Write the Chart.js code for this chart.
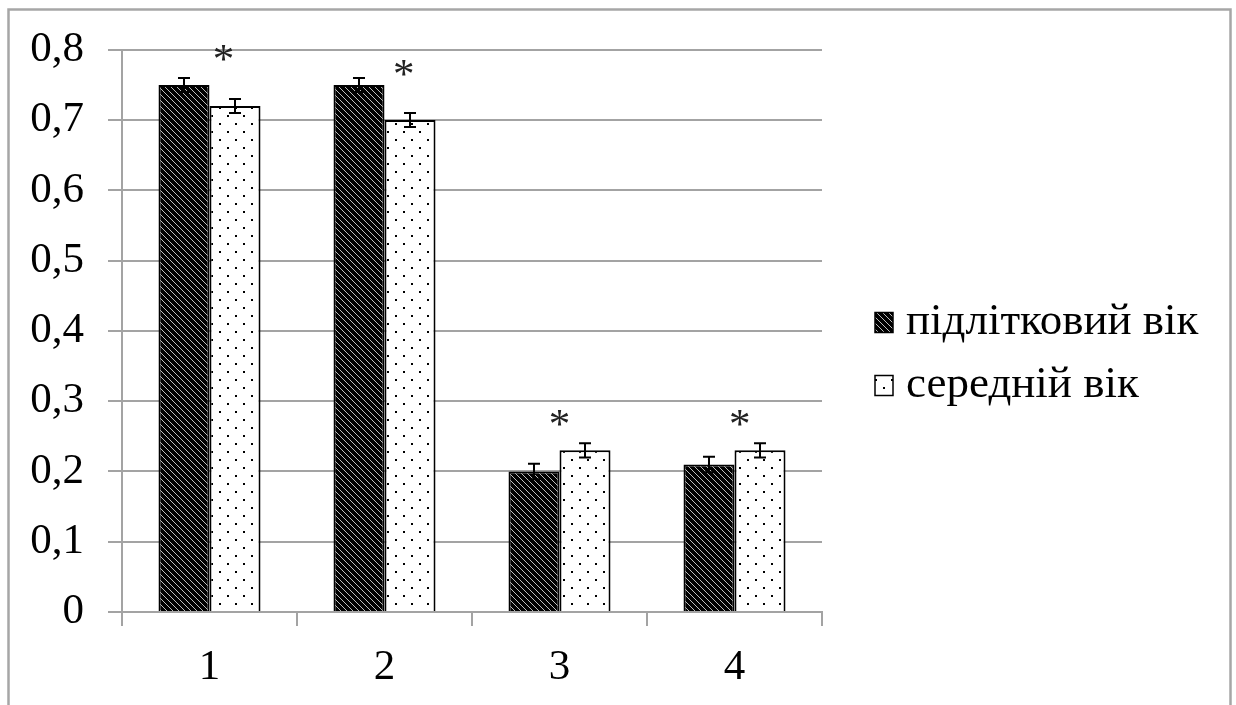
<!DOCTYPE html>
<html>
<head>
<meta charset="utf-8">
<script src="https://cdn.jsdelivr.net/npm/chart.js@4"></script>
<style>
  html, body { margin: 0; padding: 0; background: #fff; }
  .chart-box { width: 1236px; height: 705px; }
</style>
</head>
<body>
<div class="chart-box"><canvas id="chart"></canvas></div>
<script>
const categories = ['1', '2', '3', '4'];
const seriesNames = ['підлітковий вік', 'середній вік'];

const teenValues = [0.75, 0.75, 0.20, 0.21];
const teenErrors = [0.01, 0.01, 0.011, 0.011];
const middleValues = [0.72, 0.70, 0.23, 0.23];
const middleErrors = [0.01, 0.01, 0.01, 0.01];

const yTickLabels = ['0', '0,1', '0,2', '0,3', '0,4', '0,5', '0,6', '0,7', '0,8'];

// asterisks: height in axis units, shift in parts of a category
const starLevels = [0.795, 0.774, 0.276, 0.276];
const starShifts = [0.08, 0.11, 0, 0.03];

const gridColor = '#a3a3a3';
const fontFamily = '"Liberation Serif", "Times New Roman", serif';

function stripePattern() {
  const c = document.createElement('canvas');
  c.width = 6;
  c.height = 6;
  const g = c.getContext('2d');
  g.fillStyle = '#000';
  g.fillRect(0, 0, 6, 6);
  g.strokeStyle = '#bdbdbd';
  g.lineWidth = 1;
  g.beginPath();
  g.moveTo(-1, -1); g.lineTo(7, 7);
  g.moveTo(-1, 5); g.lineTo(1, 7);
  g.moveTo(5, -1); g.lineTo(7, 1);
  g.stroke();
  return g.createPattern(c, 'repeat');
}

function dotPattern() {
  const c = document.createElement('canvas');
  c.width = 16;
  c.height = 16;
  const g = c.getContext('2d');
  g.fillStyle = '#fff';
  g.fillRect(0, 0, 16, 16);
  g.fillStyle = '#000';
  g.fillRect(3, 3, 2, 2);
  g.fillRect(11, 11, 2, 2);
  return g.createPattern(c, 'repeat');
}

const frame = {
  id: 'frame',
  beforeDraw(chart) {
    const { ctx } = chart;
    ctx.save();
    ctx.strokeStyle = '#a6a6a6';
    ctx.lineWidth = 2.5;
    ctx.strokeRect(8.5, 9.5, 1222, 800);
    ctx.restore();
  },
};

const errorBars = {
  id: 'errorBars',
  afterDatasetsDraw(chart) {
    const { ctx } = chart;
    const y = chart.scales.y;
    ctx.save();
    ctx.strokeStyle = '#000';
    ctx.lineWidth = 2;
    chart.data.datasets.forEach((ds, di) => {
      chart.getDatasetMeta(di).data.forEach((bar, i) => {
        const top = y.getPixelForValue(ds.data[i] + ds.errors[i]);
        const bottom = y.getPixelForValue(ds.data[i] - ds.errors[i]);
        ctx.beginPath();
        ctx.moveTo(bar.x, top);
        ctx.lineTo(bar.x, bottom);
        ctx.moveTo(bar.x - 6, top);
        ctx.lineTo(bar.x + 6, top);
        ctx.moveTo(bar.x - 6, bottom);
        ctx.lineTo(bar.x + 6, bottom);
        ctx.stroke();
      });
    });
    ctx.restore();
  },
};

const stars = {
  id: 'stars',
  afterDraw(chart) {
    const { ctx } = chart;
    const { x, y } = chart.scales;
    const step = x.width / categories.length;
    ctx.save();
    ctx.font = '43px ' + fontFamily;
    ctx.fillStyle = '#222';
    ctx.textAlign = 'center';
    ctx.textBaseline = 'alphabetic';
    const m = ctx.measureText('*');
    const lift = (m.actualBoundingBoxAscent - m.actualBoundingBoxDescent) / 2;
    categories.forEach((c, i) => {
      const px = x.getPixelForValue(i) + starShifts[i] * step;
      const py = y.getPixelForValue(starLevels[i]) + lift;
      ctx.fillText('*', px, py);
    });
    ctx.restore();
  },
};

const sideLegend = {
  id: 'sideLegend',
  afterDraw(chart) {
    const { ctx, chartArea } = chart;
    const left = chartArea.right + 53;
    const mid = chart.height / 2;
    const rows = [mid - 30, mid + 33];
    ctx.save();
    ctx.font = '45px ' + fontFamily;
    ctx.textBaseline = 'middle';
    ctx.textAlign = 'left';
    chart.data.datasets.forEach((ds, i) => {
      const cy = rows[i];
      ctx.fillStyle = ds.backgroundColor;
      ctx.fillRect(left, cy - 10, 18, 20);
      ctx.strokeStyle = '#000';
      ctx.lineWidth = 1.5;
      ctx.strokeRect(left, cy - 10, 18, 20);
      ctx.fillStyle = '#000';
      ctx.fillText(ds.label, left + 31, cy);
    });
    ctx.restore();
  },
};

const tickFont = { family: fontFamily, size: 43 };

new Chart(document.getElementById('chart'), {
  type: 'bar',
  data: {
    labels: categories,
    datasets: [
      {
        label: seriesNames[0],
        data: teenValues,
        errors: teenErrors,
        backgroundColor: stripePattern(),
        borderColor: '#000',
        borderWidth: 2,
        categoryPercentage: 0.583,
        barPercentage: 1,
      },
      {
        label: seriesNames[1],
        data: middleValues,
        errors: middleErrors,
        backgroundColor: dotPattern(),
        borderColor: '#000',
        borderWidth: 2,
        categoryPercentage: 0.583,
        barPercentage: 1,
      },
    ],
  },
  options: {
    responsive: true,
    maintainAspectRatio: false,
    animation: false,
    layout: {
      padding: { top: 49, right: 414, bottom: 0, left: 0 },
    },
    plugins: {
      legend: { display: false },
      tooltip: { enabled: false },
    },
    scales: {
      x: {
        offset: true,
        grid: {
          offset: true,
          drawOnChartArea: false,
          tickLength: 14,
          color: gridColor,
          lineWidth: 2,
        },
        border: { color: gridColor, width: 2 },
        ticks: { color: '#000', font: tickFont, padding: 16 },
        afterFit(scale) {
          scale.height = 93;
        },
      },
      y: {
        min: 0,
        max: 0.8,
        ticks: {
          stepSize: 0.1,
          color: '#000',
          font: tickFont,
          padding: 24,
          callback: (value, index) => yTickLabels[index],
        },
        grid: { color: gridColor, lineWidth: 2, tickLength: 14 },
        border: { color: gridColor, width: 2 },
        afterFit(scale) {
          scale.width = 122;
        },
      },
    },
  },
  plugins: [frame, errorBars, stars, sideLegend],
});
</script>
</body>
</html>
